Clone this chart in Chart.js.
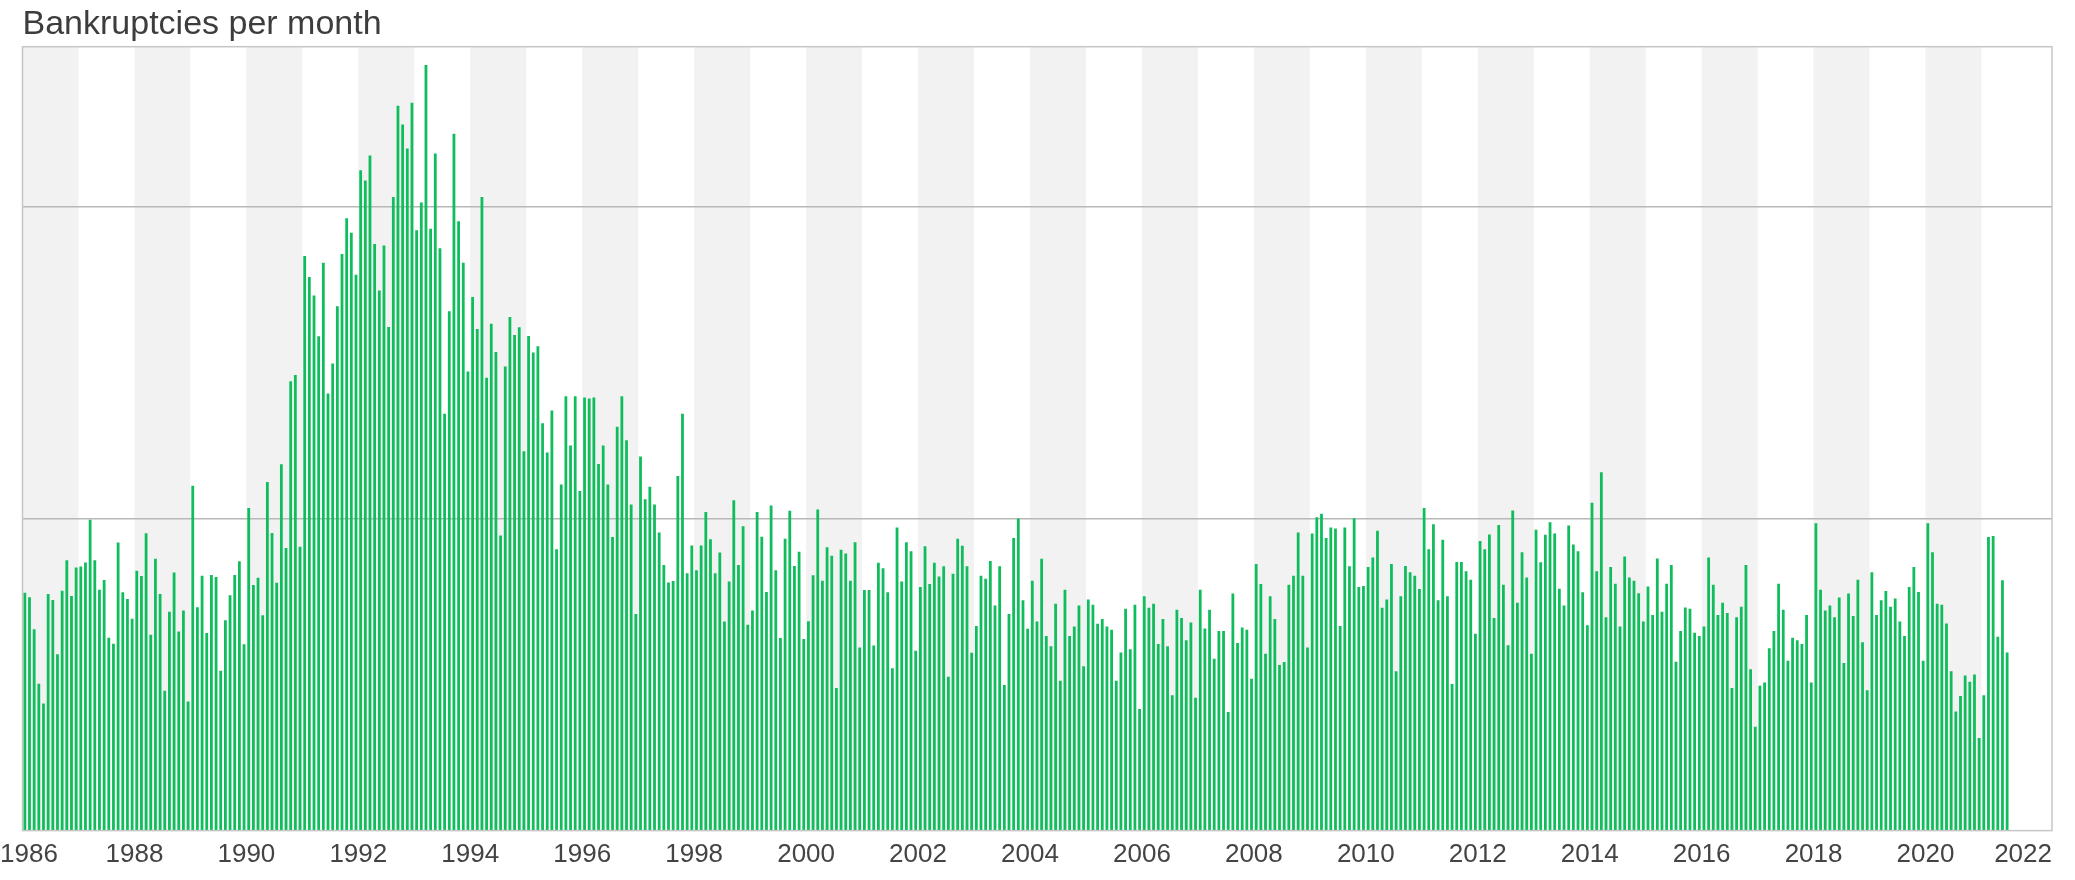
<!DOCTYPE html>
<html>
<head>
<meta charset="utf-8">
<title>Bankruptcies per month</title>
<script src="https://cdn.jsdelivr.net/npm/chart.js@4.4.1/dist/chart.umd.min.js"></script>
<style>
  html, body { margin: 0; padding: 0; background: #fff; }
  #wrap { width: 2075px; height: 880px; position: relative; }
</style>
</head>
<body>
<div id="wrap"><canvas id="chart"></canvas></div>
<script>
// monthly values, Jan..Dec
const v1986 = [762, 748, 645, 471, 407, 758, 739, 565, 769, 866, 752, 843];
const v1987 = [846, 859, 996, 866, 772, 803, 618, 599, 923, 764, 742, 679];
const v1988 = [833, 816, 953, 628, 871, 758, 448, 701, 827, 638, 705, 414];
const v1989 = [1105, 716, 817, 633, 819, 813, 512, 674, 754, 819, 863, 597];
const v1990 = [1034, 787, 810, 690, 1117, 954, 794, 1174, 906, 1440, 1460, 910];
const v1991 = [1841, 1774, 1715, 1584, 1820, 1401, 1497, 1680, 1848, 1962, 1916, 1781];
const v1992 = [2116, 2083, 2163, 1880, 1731, 1875, 1614, 2030, 2323, 2263, 2186, 2332];
const v1993 = [1924, 2013, 2453, 1929, 2170, 1866, 1336, 1664, 2233, 1953, 1820, 1471];
const v1994 = [1710, 1607, 2030, 1451, 1624, 1534, 946, 1487, 1646, 1588, 1613, 1216];
const v1995 = [1585, 1532, 1552, 1305, 1212, 1346, 902, 1109, 1392, 1234, 1392, 1088];
const v1996 = [1388, 1385, 1388, 1175, 1234, 1109, 941, 1294, 1392, 1251, 1045, 694];
const v1997 = [1199, 1062, 1102, 1045, 955, 851, 795, 800, 1136, 1336, 825, 914];
const v1998 = [834, 914, 1021, 934, 825, 891, 670, 798, 1059, 851, 975, 660];
const v1999 = [705, 1021, 942, 765, 1042, 834, 617, 935, 1025, 848, 894, 614];
const v2000 = [671, 818, 1029, 801, 908, 881, 457, 900, 888, 801, 924, 587];
const v2001 = [771, 771, 593, 858, 841, 764, 520, 971, 798, 924, 895, 576];
const v2002 = [781, 911, 790, 858, 814, 847, 493, 823, 935, 913, 847, 570];
const v2003 = [656, 817, 807, 864, 721, 847, 467, 694, 938, 1000, 738, 647];
const v2004 = [801, 670, 871, 624, 591, 727, 480, 772, 624, 654, 721, 527];
const v2005 = [741, 724, 663, 678, 654, 644, 480, 571, 711, 581, 724, 390];
const v2006 = [751, 714, 727, 598, 678, 591, 434, 708, 681, 610, 667, 426];
const v2007 = [772, 648, 708, 551, 640, 640, 380, 760, 601, 651, 644, 487];
const v2008 = [854, 790, 567, 751, 678, 531, 540, 788, 817, 955, 817, 587];
const v2009 = [952, 1004, 1015, 938, 971, 968, 656, 971, 847, 1001, 781, 784];
const v2010 = [845, 875, 961, 714, 741, 854, 511, 751, 848, 828, 817, 774];
const v2011 = [1034, 902, 982, 738, 932, 751, 470, 861, 861, 831, 804, 631];
const v2012 = [928, 902, 949, 681, 979, 788, 594, 1026, 730, 892, 811, 567];
const v2013 = [964, 860, 948, 988, 952, 775, 721, 978, 917, 895, 764, 658];
const v2014 = [1051, 831, 1148, 684, 845, 791, 654, 878, 811, 801, 761, 670];
const v2015 = [782, 691, 872, 701, 791, 851, 541, 640, 715, 711, 634, 624];
const v2016 = [654, 875, 788, 691, 730, 697, 457, 684, 717, 851, 517, 333];
const v2017 = [464, 475, 584, 640, 791, 708, 544, 618, 610, 598, 691, 475];
const v2018 = [985, 772, 705, 721, 684, 747, 537, 760, 688, 804, 604, 450];
const v2019 = [828, 691, 738, 768, 717, 744, 670, 624, 781, 845, 765, 544];
const v2020 = [985, 892, 727, 724, 664, 511, 382, 431, 497, 477, 500, 297];
const v2021 = [434, 941, 944, 621, 802, 571];

const firstYear = 1986;
const years = [v1986, v1987, v1988, v1989, v1990, v1991, v1992, v1993, v1994,
  v1995, v1996, v1997, v1998, v1999, v2000, v2001, v2002, v2003, v2004, v2005,
  v2006, v2007, v2008, v2009, v2010, v2011, v2012, v2013, v2014, v2015, v2016,
  v2017, v2018, v2019, v2020, v2021];

const tickYears = [1986, 1988, 1990, 1992, 1994, 1996, 1998, 2000, 2002, 2004,
  2006, 2008, 2010, 2012, 2014, 2016, 2018, 2020, 2022];
const gridValues = [1000, 2000];
const axisEnd = 2022.26; // the axis runs a little past 2022

// one point per month, placed mid-month on a year axis
const points = [];
years.forEach((vals, i) => {
  vals.forEach((v, m) => {
    points.push({ x: firstYear + i + (m + 0.5) / 12, y: v });
  });
});

// shade every other data year and draw the frame round the plot
const yearBands = {
  id: 'yearBands',
  beforeDraw(chart) {
    const { ctx, chartArea, scales: { x } } = chart;
    ctx.save();
    ctx.fillStyle = '#f2f2f2';
    years.forEach((vals, i) => {
      if (i % 2) return;
      const a = x.getPixelForValue(firstYear + i);
      const b = x.getPixelForValue(firstYear + i + 1);
      ctx.fillRect(a, chartArea.top, b - a, chartArea.bottom - chartArea.top);
    });
    ctx.restore();
  },
  afterDatasetsDraw(chart) {
    const { ctx, chartArea } = chart;
    ctx.save();
    ctx.strokeStyle = '#c6c6c6';
    ctx.lineWidth = 1.5;
    ctx.strokeRect(chartArea.left, chartArea.top,
      chartArea.right - chartArea.left, chartArea.bottom - chartArea.top);
    ctx.restore();
  }
};

// keep the year labels inside the canvas / plot width, like the original
const keepLabelsIn = {
  id: 'keepLabelsIn',
  beforeDraw(chart) {
    const { ctx, chartArea, scales: { x } } = chart;
    ctx.save();
    x.getLabelItems().forEach(item => {
      ctx.font = item.font.string;
      const w = ctx.measureText(item.label).width;
      const cx = item.options.translation[0];
      const left = Math.max(0, Math.min(cx - w / 2, chartArea.right - w));
      item.options.translation[0] = left + w / 2;
    });
    ctx.restore();
  }
};

const font = "'Liberation Sans', Arial, Helvetica, sans-serif";

new Chart(document.getElementById('chart'), {
  type: 'bar',
  data: {
    datasets: [{
      data: points,
      backgroundColor: '#10bd5c',
      borderWidth: 0,
      barPercentage: 0.6,
      categoryPercentage: 1.0
    }]
  },
  options: {
    responsive: true,
    maintainAspectRatio: false,
    animation: false,
    layout: { padding: { left: 22.5, right: 23, top: 0, bottom: 0 } },
    plugins: {
      legend: { display: false },
      tooltip: { enabled: false },
      title: {
        display: true,
        text: 'Bankruptcies per month',
        align: 'start',
        color: '#3d3d3d',
        font: { family: font, size: 34, weight: 'normal' },
        padding: { top: 4, bottom: 1.9 }
      }
    },
    scales: {
      x: {
        type: 'linear',
        offset: false,
        min: firstYear,
        max: axisEnd,
        afterBuildTicks: scale => { scale.ticks = tickYears.map(v => ({ value: v })); },
        // let the end labels hang over the edges instead of shrinking the plot
        afterFit: scale => { scale.paddingLeft = 0; scale.paddingRight = 0; },
        grid: { display: false, drawTicks: false },
        border: { display: false },
        ticks: {
          padding: 17.8,
          color: '#444',
          font: { family: font, size: 26, lineHeight: 0.53 },
          maxRotation: 0,
          autoSkip: false,
          callback: v => String(v)
        }
      },
      y: {
        min: 0,
        max: 2512,
        afterBuildTicks: scale => { scale.ticks = gridValues.map(v => ({ value: v })); },
        grid: { color: '#b8b8b8', lineWidth: 1.5, drawTicks: false },
        border: { display: false },
        ticks: { display: false }
      }
    }
  },
  plugins: [yearBands, keepLabelsIn]
});
</script>
</body>
</html>
